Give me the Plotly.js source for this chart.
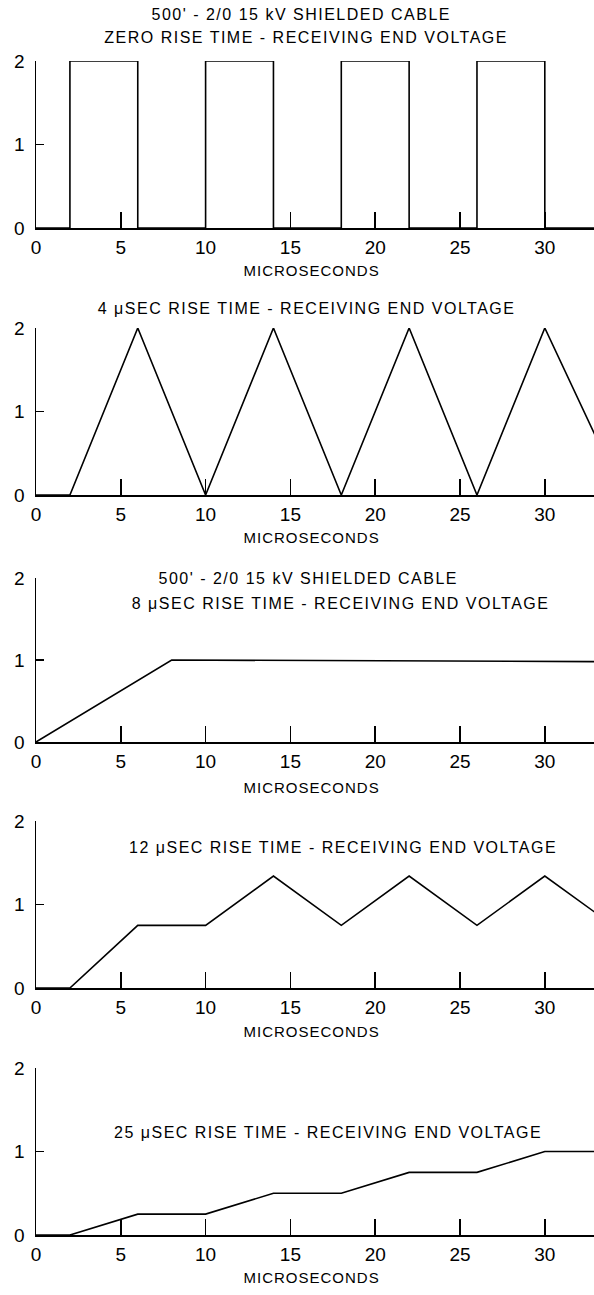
<!DOCTYPE html>
<html>
<head>
<meta charset="utf-8">
<script src="https://cdn.plot.ly/plotly-3.0.1.min.js"></script>
<style>html,body{margin:0;padding:0;background:#fff;}#chart{width:594px;height:1295px;}</style>
</head>
<body>
<div id="chart"></div>
<script>
// Data (time in microseconds, voltage in p.u.)
var t1 = [0, 2, 2, 6, 6, 10, 10, 14, 14, 18, 18, 22, 22, 26, 26, 30, 30, 33];
var v1 = [0, 0, 2, 2, 0, 0, 2, 2, 0, 0, 2, 2, 0, 0, 2, 2, 0, 0];

var t2 = [0, 2, 6, 10, 14, 18, 22, 26, 30, 33];
var v2 = [0, 0, 2, 0, 2, 0, 2, 0, 2, 0.7];

var t3 = [0, 8, 33];
var v3 = [0, 1, 0.98];

var t4 = [0, 2, 6, 10, 14, 18, 22, 26, 30, 33];
var v4 = [0, 0, 0.75, 0.75, 1.34, 0.75, 1.34, 0.75, 1.34, 0.9];

var t5 = [0, 2, 6, 10, 14, 18, 22, 26, 30, 33];
var v5 = [0, 0, 0.25, 0.25, 0.5, 0.5, 0.75, 0.75, 1.0, 1.0];

var xTicks = [0, 5, 10, 15, 20, 25, 30];
var yTicks = [0, 1, 2];

var titles = [
  ["500' - 2/0 15 kV SHIELDED CABLE", "ZERO RISE TIME - RECEIVING END VOLTAGE"],
  ["4 μSEC RISE TIME - RECEIVING END VOLTAGE"],
  ["500' - 2/0 15 kV SHIELDED CABLE", "8 μSEC RISE TIME - RECEIVING END VOLTAGE"],
  ["12 μSEC RISE TIME - RECEIVING END VOLTAGE"],
  ["25 μSEC RISE TIME - RECEIVING END VOLTAGE"]
];
var xLabel = "MICROSECONDS";

var H = 1295, W = 594;
var FONT = '"Liberation Sans Narrow", "Liberation Sans", Arial, sans-serif';
// pixel positions (top = y 2, bottom = y 0) of each panel
var panels = [[61, 228], [328, 495], [578, 742], [821, 988], [1068, 1235]];
// title line positions [x, y] px
var titlePos = [
  [[300, 14], [305, 37]],
  [[306, 308]],
  [[307, 578], [340, 603]],
  [[342, 847]],
  [[327, 1132]]
];
var xLabelY = [270, 537, 787, 1031, 1277];

var series = [[t1, v1], [t2, v2], [t3, v3], [t4, v4], [t5, v5]];
var data = [];
var layout = {
  width: W, height: H,
  margin: {l: 0, r: 0, t: 0, b: 0},
  paper_bgcolor: '#fff', plot_bgcolor: '#fff',
  showlegend: false,
  font: {family: FONT, color: '#000'},
  annotations: []
};
function py(p) { return 1 - p / H; }
for (var i = 0; i < 5; i++) {
  var n = i === 0 ? '' : String(i + 1);
  data.push({
    x: series[i][0], y: series[i][1],
    xaxis: 'x' + n, yaxis: 'y' + n,
    type: 'scatter', mode: 'lines',
    line: {color: '#000', width: 1.6},
    hoverinfo: 'none', cliponaxis: false
  });
  layout['xaxis' + n] = {
    domain: [36 / W, 1], range: [0, 32.9], anchor: 'y' + n,
    tickvals: xTicks, ticktext: xTicks.map(String),
    ticks: 'inside', ticklen: 16, tickwidth: 1.5, tickcolor: '#000',
    showline: true, linecolor: '#000', linewidth: 1.8,
    showgrid: false, zeroline: false,
    tickfont: {family: FONT, size: 19, color: '#000'},
    ticklabelstandoff: 1, fixedrange: true
  };
  layout['yaxis' + n] = {
    domain: [py(panels[i][1]), py(panels[i][0])], range: [0, 2], anchor: 'x' + n,
    tickvals: yTicks, ticktext: yTicks.map(String),
    ticks: 'inside', ticklen: 8, tickwidth: 1.5, tickcolor: '#000',
    showline: true, linecolor: '#000', linewidth: 1.5,
    showgrid: false, zeroline: false,
    tickfont: {family: FONT, size: 19, color: '#000'},
    ticklabelstandoff: 6, fixedrange: true
  };
  for (var k = 0; k < titles[i].length; k++) {
    layout.annotations.push({
      text: titles[i][k], xref: 'paper', yref: 'paper',
      x: titlePos[i][k][0] / W, y: py(titlePos[i][k][1]),
      xanchor: 'center', yanchor: 'middle', showarrow: false,
      font: {family: FONT, size: 16, color: '#000'}
    });
  }
  layout.annotations.push({
    text: xLabel, xref: 'paper', yref: 'paper',
    x: 311 / W, y: py(xLabelY[i]),
    xanchor: 'center', yanchor: 'middle', showarrow: false,
    font: {family: FONT, size: 15, color: '#000'}
  });
}
Plotly.newPlot('chart', data, layout, {staticPlot: true, displayModeBar: false}).then(function (gd) {
  // widen letter spacing to match the typewriter-like lettering of the original
  var texts = gd.querySelectorAll('.annotation-text');
  texts.forEach(function (el) {
    var sp = el.textContent === xLabel ? 1 : 1.5;
    el.style.letterSpacing = sp + 'px';
    el.setAttribute('dx', String(sp / 2));
  });
});
</script>
</body>
</html>
